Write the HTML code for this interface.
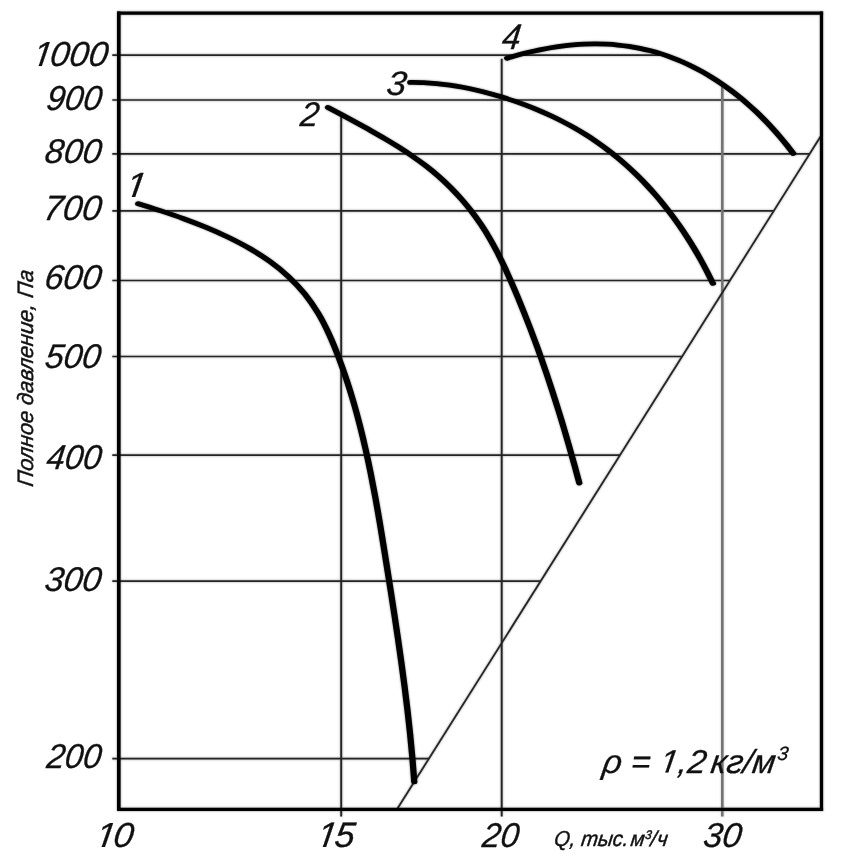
<!DOCTYPE html>
<html lang="ru">
<head>
<meta charset="utf-8">
<title>Аэродинамическая характеристика</title>
<style>
html,body{margin:0;padding:0;background:#fff;}
body{width:843px;height:865px;overflow:hidden;font-family:"Liberation Sans",sans-serif;}
svg{display:block;}
</style>
</head>
<body>
<svg width="843" height="865" viewBox="0 0 843 865" role="img" aria-label="Аэродинамическая характеристика вентилятора">
<defs>
<filter id="soft" x="0" y="0" width="843" height="865" filterUnits="userSpaceOnUse" color-interpolation-filters="sRGB"><feGaussianBlur stdDeviation="0.9"/></filter>
<clipPath id="c-y1000"><rect x="-500" y="-500" width="3000" height="496.638"/><rect x="-500" y="-500" width="500.088" height="1000"/><rect x="16.779" y="-500" width="3000" height="1000"/><polygon points="7.730,-5.024 11.061,-5.024 10.082,0.020 6.750,0.020"/></clipPath>
<clipPath id="c-x10"><rect x="-500" y="-500" width="3000" height="496.638"/><rect x="-500" y="-500" width="500.088" height="1000"/><rect x="16.779" y="-500" width="3000" height="1000"/><polygon points="7.730,-5.024 11.061,-5.024 10.082,0.020 6.750,0.020"/></clipPath>
<clipPath id="c-x15"><rect x="-500" y="-500" width="3000" height="496.638"/><rect x="-500" y="-500" width="500.088" height="1000"/><rect x="16.779" y="-500" width="3000" height="1000"/><polygon points="7.730,-5.024 11.061,-5.024 10.082,0.020 6.750,0.020"/></clipPath>
<clipPath id="c-n1"><rect x="-500" y="-500" width="3000" height="496.638"/><rect x="-500" y="-500" width="500.088" height="1000"/><rect x="16.779" y="-500" width="3000" height="1000"/><polygon points="7.730,-5.024 11.061,-5.024 10.082,0.020 6.750,0.020"/></clipPath>
<clipPath id="c-rho"><rect x="-500" y="-500" width="3000" height="496.697"/><rect x="-500" y="-500" width="557.409" height="1000"/><rect x="73.744" y="-500" width="3000" height="1000"/><polygon points="64.889,-4.907 68.149,-4.907 67.192,0.020 63.932,0.020"/></clipPath>
</defs>
<rect width="843" height="865" fill="#fff"/>
<use href="#ink" filter="url(#soft)" opacity="0.45"/>
<g id="ink">
<g stroke="#242424" stroke-width="1.7" fill="none">
<line x1="112.3" y1="55.2" x2="660.0" y2="55.2"/>
<line x1="112.3" y1="100.0" x2="739.5" y2="100.0"/>
<line x1="112.3" y1="153.8" x2="809.7" y2="153.8"/>
<line x1="112.3" y1="210.8" x2="773.8" y2="210.8"/>
<line x1="112.3" y1="280.5" x2="730.0" y2="280.5"/>
<line x1="112.3" y1="356.5" x2="682.1" y2="356.5"/>
<line x1="112.3" y1="455.2" x2="620.0" y2="455.2"/>
<line x1="112.3" y1="581.1" x2="540.7" y2="581.1"/>
<line x1="112.3" y1="758.6" x2="428.9" y2="758.6"/>
<line x1="341.2" y1="115.0" x2="341.2" y2="816.5" stroke-width="1.9"/>
<line x1="501.7" y1="58.8" x2="501.7" y2="816.5" stroke-width="1.9"/>
<line x1="722.3" y1="85.5" x2="722.3" y2="816.5" stroke-width="2.6" stroke="#747474"/>
<line x1="397.0" y1="809.3" x2="821.5" y2="135.1" stroke-width="1.8"/>
</g>
<g stroke="#000" stroke-linecap="square" fill="none">
<line x1="118.8" y1="13.2" x2="118.8" y2="809.3" stroke-width="3.6"/>
<line x1="118.8" y1="13.2" x2="821.5" y2="13.2" stroke-width="3.2"/>
<line x1="821.5" y1="13.2" x2="821.5" y2="809.3" stroke-width="3.2"/>
<line x1="118.8" y1="809.3" x2="821.5" y2="809.3" stroke-width="3.2"/>
</g>
<g transform="scale(1.3 1)" stroke="#000" stroke-width="4.8" fill="none" stroke-linecap="round" stroke-linejoin="round">
<path d="M106.35 203.68C109.27 204.89 118.02 208.39 123.85 210.90C129.67 213.41 135.51 215.97 141.29 218.72C147.08 221.47 152.86 224.33 158.57 227.41C164.28 230.50 169.96 233.74 175.54 237.25C181.12 240.77 186.68 244.47 192.04 248.51C197.40 252.56 202.70 256.84 207.69 261.53C212.67 266.22 217.51 271.23 221.97 276.65C226.43 282.07 230.65 287.89 234.46 294.05C238.28 300.21 241.73 306.80 244.88 313.60C248.02 320.40 250.75 327.61 253.34 334.87C255.93 342.13 258.21 349.65 260.42 357.15C262.63 364.64 264.67 372.22 266.61 379.83C268.56 387.43 270.37 395.08 272.09 402.77C273.81 410.45 275.41 418.18 276.94 425.93C278.46 433.69 279.88 441.48 281.24 449.29C282.60 457.10 283.87 464.94 285.09 472.79C286.32 480.65 287.46 488.53 288.58 496.42C289.70 504.30 290.75 512.21 291.79 520.11C292.83 528.02 293.82 535.94 294.81 543.85C295.80 551.77 296.76 559.69 297.73 567.60C298.69 575.51 299.65 583.42 300.60 591.32C301.55 599.23 302.50 607.13 303.42 615.03C304.34 622.94 305.26 630.84 306.14 638.75C307.03 646.66 307.90 654.57 308.74 662.48C309.58 670.40 310.40 678.32 311.18 686.24C311.96 694.17 312.71 702.11 313.43 710.05C314.14 718.00 314.82 725.95 315.45 733.92C316.08 741.89 316.67 749.87 317.21 757.87C317.74 765.86 318.43 777.89 318.67 781.90"/>
<path d="M252.35 107.45C254.17 108.73 259.63 112.52 263.29 115.08C266.95 117.64 270.63 120.19 274.31 122.79C277.98 125.39 281.67 128.01 285.33 130.69C288.99 133.37 292.66 136.07 296.28 138.86C299.91 141.64 303.52 144.47 307.08 147.40C310.63 150.33 314.16 153.32 317.61 156.43C321.06 159.53 324.46 162.72 327.77 166.04C331.07 169.37 334.31 172.80 337.44 176.37C340.57 179.94 343.61 183.64 346.54 187.46C349.48 191.28 352.32 195.23 355.05 199.28C357.79 203.34 360.42 207.51 362.95 211.79C365.48 216.07 367.90 220.46 370.22 224.94C372.53 229.43 374.73 234.02 376.83 238.70C378.93 243.37 380.90 248.16 382.81 252.98C384.72 257.81 386.52 262.73 388.30 267.66C390.07 272.59 391.77 277.57 393.45 282.56C395.13 287.55 396.78 292.56 398.39 297.57C400.01 302.59 401.59 307.63 403.15 312.68C404.70 317.73 406.23 322.79 407.73 327.86C409.22 332.94 410.69 338.03 412.13 343.13C413.58 348.23 414.99 353.34 416.38 358.46C417.77 363.59 419.13 368.72 420.48 373.87C421.82 379.01 423.13 384.16 424.43 389.33C425.72 394.49 426.99 399.66 428.25 404.84C429.50 410.03 430.73 415.21 431.94 420.41C433.15 425.61 434.34 430.81 435.51 436.02C436.69 441.23 437.84 446.45 438.98 451.67C440.12 456.89 441.24 462.11 442.35 467.34C443.45 472.57 445.08 480.43 445.62 483.05"/>
<path d="M315.62 82.35C317.31 82.40 322.39 82.42 325.77 82.62C329.14 82.83 332.51 83.15 335.87 83.56C339.23 83.98 342.59 84.51 345.93 85.13C349.27 85.75 352.61 86.48 355.93 87.29C359.25 88.09 362.57 89.00 365.87 89.98C369.17 90.97 372.46 92.04 375.74 93.18C379.02 94.33 382.29 95.55 385.55 96.85C388.80 98.14 392.05 99.50 395.27 100.93C398.49 102.37 401.70 103.87 404.89 105.44C408.08 107.02 411.25 108.67 414.39 110.39C417.52 112.12 420.64 113.91 423.73 115.78C426.81 117.65 429.87 119.60 432.89 121.62C435.92 123.65 438.91 125.75 441.86 127.93C444.81 130.10 447.72 132.36 450.59 134.70C453.47 137.03 456.30 139.45 459.08 141.94C461.86 144.44 464.60 147.02 467.29 149.67C469.98 152.32 472.63 155.06 475.22 157.86C477.82 160.67 480.37 163.55 482.88 166.49C485.38 169.44 487.84 172.46 490.25 175.54C492.66 178.61 495.02 181.76 497.34 184.97C499.66 188.17 501.93 191.44 504.15 194.77C506.37 198.09 508.55 201.47 510.68 204.90C512.81 208.34 514.89 211.83 516.92 215.36C518.95 218.89 520.94 222.48 522.88 226.11C524.82 229.73 526.71 233.41 528.55 237.12C530.40 240.83 532.19 244.59 533.94 248.38C535.69 252.17 537.39 256.00 539.05 259.85C540.70 263.71 542.30 267.61 543.86 271.52C545.42 275.44 547.64 281.39 548.39 283.36"/>
<path d="M390.14 58.16C391.51 57.65 395.62 56.06 398.39 55.09C401.16 54.11 403.95 53.17 406.75 52.30C409.55 51.43 412.36 50.60 415.19 49.84C418.01 49.09 420.85 48.38 423.70 47.76C426.54 47.13 429.40 46.56 432.26 46.08C435.12 45.60 437.98 45.18 440.85 44.86C443.72 44.53 446.59 44.28 449.47 44.12C452.34 43.96 455.21 43.89 458.08 43.90C460.95 43.91 463.82 44.01 466.67 44.19C469.53 44.38 472.39 44.65 475.23 45.02C478.07 45.39 480.91 45.84 483.73 46.39C486.54 46.94 489.35 47.58 492.14 48.32C494.94 49.05 497.71 49.88 500.47 50.81C503.22 51.74 505.96 52.76 508.67 53.88C511.39 55.00 514.08 56.22 516.75 57.53C519.41 58.84 522.06 60.24 524.67 61.73C527.29 63.22 529.88 64.80 532.45 66.46C535.01 68.12 537.55 69.86 540.06 71.68C542.57 73.50 545.05 75.41 547.50 77.38C549.95 79.35 552.37 81.39 554.75 83.50C557.14 85.62 559.49 87.80 561.81 90.04C564.14 92.28 566.42 94.59 568.67 96.96C570.93 99.32 573.14 101.75 575.32 104.22C577.50 106.70 579.64 109.23 581.75 111.81C583.85 114.39 585.92 117.02 587.94 119.69C589.96 122.36 591.95 125.08 593.89 127.83C595.83 130.58 597.74 133.38 599.59 136.20C601.45 139.03 603.26 141.89 605.03 144.78C606.80 147.67 609.34 152.07 610.20 153.53"/>
</g>
</g>
<g font-family="'Liberation Sans', sans-serif" font-style="italic" fill="#111" stroke="#111" stroke-width="0.3" stroke-linejoin="round">
<g transform="translate(31.68 66.15) scale(1.0101 1.0144)"><text transform="skewX(-8)" font-size="34.3" clip-path="url(#c-y1000)">1<tspan dx="-2">000</tspan></text></g>
<g transform="translate(45.41 110.05) scale(0.9670 1.0103)"><text transform="skewX(-8)" font-size="34.3">900</text></g>
<g transform="translate(43.87 162.75) scale(0.9861 1.0021)"><text transform="skewX(-8)" font-size="34.3">800</text></g>
<g transform="translate(42.51 219.94) scale(1.0091 1.0268)"><text transform="skewX(-8)" font-size="34.3">700</text></g>
<g transform="translate(43.42 289.15) scale(0.9920 1.0062)"><text transform="skewX(-8)" font-size="34.3">600</text></g>
<g transform="translate(43.94 367.75) scale(0.9749 0.9979)"><text transform="skewX(-8)" font-size="34.3">500</text></g>
<g transform="translate(45.44 468.55) scale(0.9579 1.0062)"><text transform="skewX(-8)" font-size="34.3">400</text></g>
<g transform="translate(43.67 591.45) scale(0.9878 0.9979)"><text transform="skewX(-8)" font-size="34.3">300</text></g>
<g transform="translate(45.64 768.15) scale(0.9546 1.0062)"><text transform="skewX(-8)" font-size="34.3">200</text></g>
<g transform="translate(94.47 847.05) scale(1.0413 1.0144)"><text transform="skewX(-8)" font-size="34.3" clip-path="url(#c-x10)">1<tspan dx="-2">0</tspan></text></g>
<g transform="translate(315.67 847.04) scale(1.0412 1.0358)"><text transform="skewX(-8)" font-size="34.3" clip-path="url(#c-x15)">1<tspan dx="-2">5</tspan></text></g>
<g transform="translate(481.14 846.75) scale(0.9605 1.0021)"><text transform="skewX(-8)" font-size="34.3">20</text></g>
<g transform="translate(702.15 847.15) scale(0.9974 1.0062)"><text transform="skewX(-8)" font-size="34.3">30</text></g>
<g transform="translate(124.52 196.90) scale(1.0636 1.0213)"><text transform="skewX(-8)" font-size="34.3" clip-path="url(#c-n1)">1</text></g>
<g transform="translate(299.34 126.40) scale(0.9674 1.0000)"><text transform="skewX(-8)" font-size="34.3">2</text></g>
<g transform="translate(385.41 95.45) scale(1.0205 0.9938)"><text transform="skewX(-8)" font-size="34.3">3</text></g>
<g transform="translate(500.93 48.90) scale(0.9700 1.0383)"><text transform="skewX(-8)" font-size="34.3">4</text></g>
<g transform="translate(601.44 772.57) scale(0.9963 0.9893)"><text transform="skewX(-8)" font-size="33.5" clip-path="url(#c-rho)">ρ = 1,2<tspan dx="-4.5"> кг/м</tspan><tspan font-size="19.5" dy="-12.3" dx="1">3</tspan></text></g>
<g transform="translate(553.49 846.25) scale(0.9391 1.0000)"><text transform="skewX(-8)" font-size="21.5" stroke="#111" stroke-width="0.45">Q, тыс.<tspan dx="-3.5"> м</tspan><tspan font-size="12.5" dy="-7.3">3</tspan><tspan dy="7.3" dx="-0.5">/</tspan><tspan dx="1">ч</tspan></text></g>
<g transform="translate(33.26 487.29) rotate(-90) scale(0.9870 1.0130)"><text transform="skewX(-8)" font-size="22.0" stroke="#111" stroke-width="0.45">Полное давление, Па</text></g>
</g>
</svg>
</body>
</html>
